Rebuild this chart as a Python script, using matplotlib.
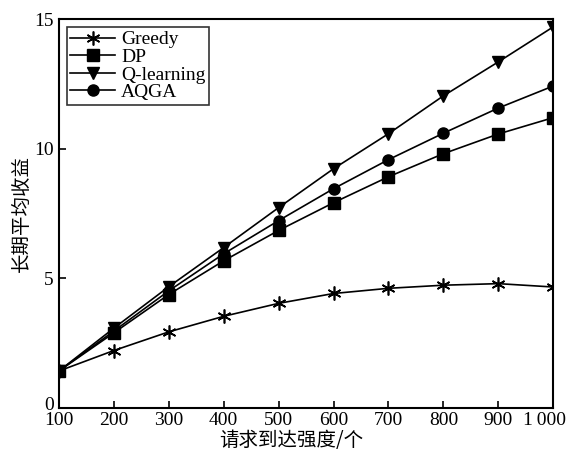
import matplotlib
matplotlib.use('Agg')
import matplotlib.pyplot as plt
import matplotlib.transforms as mtransforms

plt.rcParams['font.family'] = ['Liberation Serif', 'Noto Sans CJK SC', 'DejaVu Sans']

# data
x = [100, 200, 300, 400, 500, 600, 700, 800, 900, 1000]
greedy = [1.43, 2.22, 2.94, 3.54, 4.04, 4.42, 4.62, 4.74, 4.80, 4.67]
dp = [1.43, 2.90, 4.38, 5.68, 6.85, 7.92, 8.92, 9.81, 10.57, 11.20]
qlearn = [1.43, 3.08, 4.68, 6.19, 7.73, 9.23, 10.58, 12.04, 13.35, 14.70]
aqga = [1.43, 2.97, 4.52, 5.95, 7.23, 8.46, 9.58, 10.60, 11.57, 12.42]
xticklabels = ['100', '200', '300', '400', '500', '600', '700', '800', '900', '1\u2009000']

fig = plt.figure(figsize=(5.71, 4.54), dpi=100)
ax = fig.add_axes([0.103, 0.101, 0.866, 0.857])

lw = 1.2
ax.plot(x, greedy, '-', color='k', lw=lw, marker=(6, 2, 0), ms=10, mew=1.2, label='Greedy')
ax.plot(x, dp, '-', color='k', lw=lw, marker='s', ms=8, label='DP')
ax.plot(x, qlearn, '-', color='k', lw=lw, marker='v', ms=9, label='Q-learning')
ax.plot(x, aqga, '-', color='k', lw=lw, marker='o', ms=8, label='AQGA')

ax.set_xlim(100, 1000)
ax.set_ylim(0, 15)
ax.set_xticks(x)
ax.set_xticklabels(xticklabels)
ax.set_yticks([0, 5, 10, 15])
ax.tick_params(direction='in', length=5, width=1.2, labelsize=14, top=False, right=False)
ax.tick_params(axis='x', pad=3)
for s in ax.spines.values():
    s.set_linewidth(1.5)

# nudge the last x label left so it stays inside the figure
last = ax.get_xticklabels()[-1]
last.set_transform(last.get_transform() + mtransforms.ScaledTranslation(-6 / 72, 0, fig.dpi_scale_trans))
# lift the y "0" a bit so it clears "100"
zero = ax.get_yticklabels()[0]
zero.set_transform(zero.get_transform() + mtransforms.ScaledTranslation(0, 3 / 72, fig.dpi_scale_trans))

ax.set_xlabel('请求到达强度/个', fontsize=14, family=['Noto Sans CJK SC'], labelpad=0)
ax.xaxis.set_label_coords(0.47, -0.055, transform=ax.transAxes)
ax.xaxis.label.set_va('top')
ax.set_ylabel('长期平均收益', fontsize=14, family=['Noto Sans CJK SC'], labelpad=2)

leg = ax.legend(loc='upper left', fontsize=14, frameon=True, fancybox=False,
                edgecolor='k', handlelength=2.3, handletextpad=0.3, borderpad=0.2,
                labelspacing=0.0, borderaxespad=0.4)
leg.get_frame().set_linewidth(1.2)

fig.savefig('out.png', dpi=100)
